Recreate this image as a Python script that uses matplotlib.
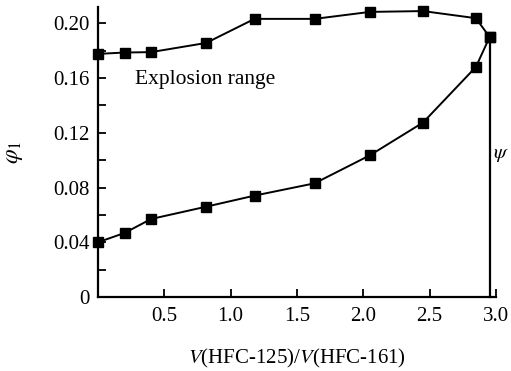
import matplotlib
matplotlib.use('Agg')
import matplotlib.pyplot as plt
from matplotlib.ticker import MultipleLocator, FixedLocator

plt.rcParams['font.family'] = ['Liberation Serif', 'DejaVu Serif']
plt.rcParams['mathtext.fontset'] = 'stix'

# ratio V(HFC-125)/V(HFC-161)
x_upper = [0.0, 0.2, 0.4, 0.815, 1.18, 1.633, 2.05, 2.45, 2.849, 2.952]
y_upper = [0.1777, 0.1787, 0.179, 0.1857, 0.2033, 0.2033, 0.2084, 0.209, 0.2038, 0.190]
x_lower = [0.0, 0.2, 0.4, 0.815, 1.18, 1.633, 2.05, 2.45, 2.849, 2.952]
y_lower = [0.040, 0.0468, 0.057, 0.066, 0.0741, 0.0831, 0.1036, 0.1275, 0.1682, 0.190]
x_ticks = [0.5, 1.0, 1.5, 2.0, 2.5, 3.0]
y_ticks = [0, 0.04, 0.08, 0.12, 0.16, 0.20]
y_ticklabels = ['0', '0.04', '0.08', '0.12', '0.16', '0.20']
psi_x = 2.952
psi_top = 0.190

fig = plt.figure(figsize=(5.11, 3.71), dpi=100)
ax = fig.add_axes([0.1918, 0.1995, 0.7788, 0.7817])

ax.plot(x_upper, y_upper, 'k-s', lw=1.4, ms=6.5, clip_on=False, zorder=3)
ax.plot(x_lower, y_lower, 'k-s', lw=1.4, ms=6.5, clip_on=False, zorder=3)
ax.plot([psi_x, psi_x], [0, psi_top], 'k-', lw=1.6, clip_on=False)

ax.text(0.28, 0.1587, 'Explosion range', fontsize=15.5, va='center', ha='left')
ax.text(2.975, 0.104, r'$\psi$', fontsize=15, va='center', ha='left')

ax.set_xlim(0, 3.0)
ax.set_ylim(0, 0.212)
ax.xaxis.set_major_locator(FixedLocator(x_ticks))
ax.set_xticklabels(['%.1f' % v for v in x_ticks])
ax.yaxis.set_major_locator(FixedLocator(y_ticks))
ax.set_yticklabels(y_ticklabels)
ax.yaxis.set_minor_locator(MultipleLocator(0.02))

for s in ['top', 'right']:
    ax.spines[s].set_visible(False)
for s in ['left', 'bottom']:
    ax.spines[s].set_linewidth(1.6)

ax.tick_params(which='both', direction='in', length=6, width=1.3, labelsize=15)
ax.tick_params(axis='x', pad=7)
ax.tick_params(axis='y', pad=6)

ax.set_xlabel(r'$V$(HFC-125)/$V$(HFC-161)', fontsize=15, labelpad=15)
ax.set_ylabel(r'$\varphi_1$', fontsize=17, labelpad=20)

fig.savefig('out.png', dpi=100)
